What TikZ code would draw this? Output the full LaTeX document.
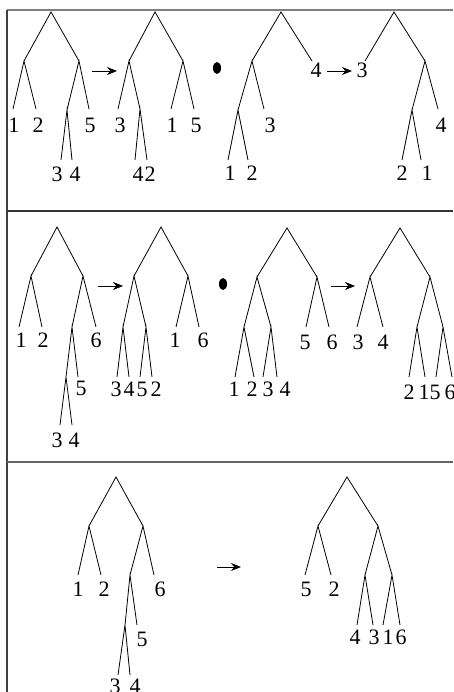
\documentclass[tikz,border=0pt]{standalone}
\usepackage{fontspec}
\setmainfont{Liberation Serif}
\usetikzlibrary{arrows.meta,shapes.geometric}

\begin{document}
\begin{tikzpicture}[x=1pt,y=-1pt,
    edge/.style={line width=0.8pt},
    leaf/.style={anchor=north,inner sep=0pt,font=\fontsize{22}{22}\selectfont},
    move/.style={line width=0.9pt,-{Stealth[length=10pt,width=8pt]}},
    dot/.style={ellipse,fill=black,minimum width=8pt,minimum height=12pt,inner sep=0pt}]

\useasboundingbox (0,0) rectangle (453,692);

% frame
\draw[line width=1.6pt,gray] (7,10) -- (453,10);
\draw[line width=1.4pt,black!75] (7,10) -- (7,692);
\draw[line width=1.4pt,black!80] (7,211) -- (453,211);
\draw[line width=1.6pt,black!60] (7,462) -- (453,462);

%%% first row
\coordinate (a0) at (51,12);
\coordinate (a1) at (24,61);
\coordinate (a2) at (79,61);
\coordinate (a3) at (13,109);
\coordinate (a4) at (36,109);
\coordinate (a5) at (67,110);
\coordinate (a6) at (89,109);
\coordinate (a7) at (61,160);
\coordinate (a8) at (72,160);
\draw[edge] (a1) -- (a0) -- (a2) (a3) -- (a1) -- (a4) (a5) -- (a2) -- (a6) (a7) -- (a5) -- (a8);
\node[leaf] (la3) at (14,118) {1};
\node[leaf] (la4) at (38,118) {2};
\node[leaf] (la6) at (90,118) {5};
\node[leaf] (la7) at (57,167) {3};
\node[leaf] (la8) at (75,167) {4};

\coordinate (p1) at (92,71);
\coordinate (q1) at (117,71);
\draw[move] (p1) -- (q1);

\coordinate (b0) at (155,12);
\coordinate (b1) at (129,61);
\coordinate (b2) at (183,61);
\coordinate (b3) at (118,109);
\coordinate (b4) at (140,109);
\coordinate (b5) at (135,160);
\coordinate (b6) at (147,160);
\coordinate (b7) at (171,109);
\coordinate (b8) at (194,109);
\draw[edge] (b1) -- (b0) -- (b2) (b3) -- (b1) -- (b4) (b5) -- (b4) -- (b6) (b7) -- (b2) -- (b8);
\node[leaf] (lb3) at (120,118) {3};
\node[leaf] (lb5) at (138,167) {4};
\node[leaf] (lb6) at (150,167) {2};
\node[leaf] (lb7) at (172,118) {1};
\node[leaf] (lb8) at (196,118) {5};

\node[dot] (dot1) at (217,68) {};

\coordinate (c0) at (281,12);
\coordinate (c1) at (252,61);
\coordinate (c2) at (312,61);
\coordinate (c3) at (238,110);
\coordinate (c4) at (264,109);
\coordinate (c5) at (228,160);
\coordinate (c6) at (248,160);
\draw[edge] (c1) -- (c0) -- (c2) (c3) -- (c1) -- (c4) (c5) -- (c3) -- (c6);
\node[leaf] (lc2) at (316,63) {4};
\node[leaf] (lc4) at (270,118) {3};
\node[leaf] (lc5) at (230,166) {1};
\node[leaf] (lc6) at (252,166) {2};

\coordinate (p2) at (327,71);
\coordinate (q2) at (352,71);
\draw[move] (p2) -- (q2);

\coordinate (d0) at (394,12);
\coordinate (d1) at (365,61);
\coordinate (d2) at (425,61);
\coordinate (d3) at (412,110);
\coordinate (d4) at (438,109);
\coordinate (d5) at (402,160);
\coordinate (d6) at (421,160);
\draw[edge] (d1) -- (d0) -- (d2) (d3) -- (d2) -- (d4) (d5) -- (d3) -- (d6);
\node[leaf] (ld1) at (362,63) {3};
\node[leaf] (ld4) at (441,118) {4};
\node[leaf] (ld5) at (402,166) {2};
\node[leaf] (ld6) at (427,166) {1};

%%% second row
\coordinate (e0) at (57,227);
\coordinate (e1) at (31,276);
\coordinate (e2) at (83,276);
\coordinate (e3) at (19,327);
\coordinate (e4) at (42,327);
\coordinate (e5) at (72,327);
\coordinate (e6) at (96,327);
\coordinate (e7) at (66,377);
\coordinate (e8) at (78,377);
\coordinate (e9) at (60,425);
\coordinate (e10) at (72,425);
\draw[edge] (e1) -- (e0) -- (e2) (e3) -- (e1) -- (e4) (e5) -- (e2) -- (e6)
  (e7) -- (e5) -- (e8) (e9) -- (e7) -- (e10);
\node[leaf] (le3) at (21,333) {1};
\node[leaf] (le4) at (43,333) {2};
\node[leaf] (le6) at (96,333) {6};
\node[leaf] (le8) at (81,381) {5};
\node[leaf] (le9) at (57,433) {3};
\node[leaf] (le10) at (74,433) {4};

\coordinate (p3) at (98,286);
\coordinate (q3) at (123,286);
\draw[move] (p3) -- (q3);

\coordinate (f0) at (161,227);
\coordinate (f1) at (134,276);
\coordinate (f2) at (188,276);
\coordinate (f3) at (123,327);
\coordinate (f4) at (146,327);
\coordinate (f5) at (117,377);
\coordinate (f6) at (129,377);
\coordinate (f7) at (140,377);
\coordinate (f8) at (152,377);
\coordinate (f9) at (176,327);
\coordinate (f10) at (199,327);
\draw[edge] (f1) -- (f0) -- (f2) (f3) -- (f1) -- (f4) (f5) -- (f3) -- (f6)
  (f7) -- (f4) -- (f8) (f9) -- (f2) -- (f10);
\node[leaf] (lf5) at (116,382) {3};
\node[leaf] (lf6) at (129,382) {4};
\node[leaf] (lf7) at (142,382) {5};
\node[leaf] (lf8) at (156,382) {2};
\node[leaf] (lf9) at (175,333) {1};
\node[leaf] (lf10) at (203,333) {6};

\node[dot] (dot2) at (223,284) {};

\coordinate (g0) at (287,228);
\coordinate (g1) at (257,277);
\coordinate (g2) at (317,277);
\coordinate (g3) at (244,327);
\coordinate (g4) at (271,327);
\coordinate (g5) at (235,377);
\coordinate (g6) at (254,377);
\coordinate (g7) at (263,377);
\coordinate (g8) at (277,377);
\coordinate (g9) at (306,327);
\coordinate (g10) at (329,327);
\draw[edge] (g1) -- (g0) -- (g2) (g3) -- (g1) -- (g4) (g5) -- (g3) -- (g6)
  (g7) -- (g4) -- (g8) (g9) -- (g2) -- (g10);
\node[leaf] (lg5) at (234,382) {1};
\node[leaf] (lg6) at (252,382) {2};
\node[leaf] (lg7) at (268,382) {3};
\node[leaf] (lg8) at (285,382) {4};
\node[leaf] (lg9) at (305,335) {5};
\node[leaf] (lg10) at (332,335) {6};

\coordinate (p4) at (331,286);
\coordinate (q4) at (355,286);
\draw[move] (p4) -- (q4);

\coordinate (h0) at (400,228);
\coordinate (h1) at (370,277);
\coordinate (h2) at (430,277);
\coordinate (h3) at (357,327);
\coordinate (h4) at (383,327);
\coordinate (h5) at (417,327);
\coordinate (h6) at (443,327);
\coordinate (h7) at (409,377);
\coordinate (h8) at (425,377);
\coordinate (h9) at (436,377);
\coordinate (h10) at (452,377);
\draw[edge] (h1) -- (h0) -- (h2) (h3) -- (h1) -- (h4) (h5) -- (h2) -- (h6)
  (h7) -- (h5) -- (h8) (h9) -- (h6) -- (h10);
\node[leaf] (lh3) at (358,335) {3};
\node[leaf] (lh4) at (383,335) {4};
\node[leaf] (lh7) at (409,385) {2};
\node[leaf] (lh8) at (424,385) {1};
\node[leaf] (lh9) at (435,385) {5};
\node[leaf] (lh10) at (450,385) {6};

%%% third row
\coordinate (i0) at (116,477);
\coordinate (i1) at (89,526);
\coordinate (i2) at (143,526);
\coordinate (i3) at (78,575);
\coordinate (i4) at (101,575);
\coordinate (i5) at (130,575);
\coordinate (i6) at (154,575);
\coordinate (i7) at (125,625);
\coordinate (i8) at (137,625);
\coordinate (i9) at (118,675);
\coordinate (i10) at (130,675);
\draw[edge] (i1) -- (i0) -- (i2) (i3) -- (i1) -- (i4) (i5) -- (i2) -- (i6)
  (i7) -- (i5) -- (i8) (i9) -- (i7) -- (i10);
\node[leaf] (li3) at (78,582) {1};
\node[leaf] (li4) at (104,582) {2};
\node[leaf] (li6) at (160,582) {6};
\node[leaf] (li8) at (142,632) {5};
\node[leaf] (li9) at (115,679) {3};
\node[leaf] (li10) at (135,679) {4};

\coordinate (p5) at (217,567);
\coordinate (q5) at (241,567);
\draw[move] (p5) -- (q5);

\coordinate (j0) at (347,477);
\coordinate (j1) at (318,526);
\coordinate (j2) at (378,526);
\coordinate (j3) at (305,575);
\coordinate (j4) at (331,575);
\coordinate (j5) at (365,575);
\coordinate (j6) at (392,575);
\coordinate (j7) at (357,625);
\coordinate (j8) at (373,625);
\coordinate (j9) at (383,625);
\coordinate (j10) at (400,625);
\draw[edge] (j1) -- (j0) -- (j2) (j3) -- (j1) -- (j4) (j5) -- (j2) -- (j6)
  (j7) -- (j5) -- (j8) (j9) -- (j6) -- (j10);
\node[leaf] (lj3) at (306,582) {5};
\node[leaf] (lj4) at (334,582) {2};
\node[leaf] (lj7) at (355,630) {4};
\node[leaf] (lj8) at (374,630) {3};
\node[leaf] (lj9) at (388,630) {1};
\node[leaf] (lj10) at (401,630) {6};
\end{tikzpicture}
\end{document}
